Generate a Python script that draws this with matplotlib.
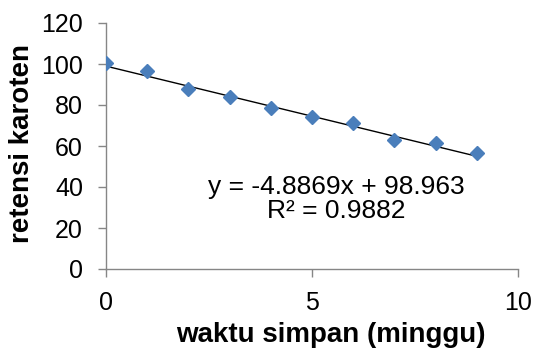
import matplotlib
matplotlib.use("Agg")
import matplotlib.pyplot as plt
import numpy as np

plt.rcParams["font.family"] = ["Liberation Sans", "DejaVu Sans"]

# storage time (weeks) and carotene retention (%)
weeks = [0, 1, 2, 3, 4, 5, 6, 7, 8, 9]
retention = [100.3, 96.6, 87.7, 83.9, 78.4, 74.3, 71.1, 62.9, 61.6, 56.4]

# trendline as reported on the chart
slope = -4.8869
intercept = 98.963
r_squared = 0.9882

x_ticks = [0, 5, 10]
y_ticks = [0, 20, 40, 60, 80, 100, 120]

axis_grey = "#868686"
marker_blue = "#4a7ebb"

W, H = 537, 349
fig = plt.figure(figsize=(W / 100, H / 100), dpi=100)
ax = fig.add_axes([106 / W, 1 - 269 / H, 412 / W, 246 / H])

ax.plot(weeks, retention, linestyle="none", marker="D", markersize=7.5,
        color=marker_blue, markeredgecolor=marker_blue, zorder=3)

fit_x = np.array([weeks[0], weeks[-1]])
ax.plot(fit_x, slope * fit_x + intercept, color="black", linewidth=1.0, zorder=2)

ax.set_xlim(0, 10)
ax.set_ylim(0, 120)
ax.set_xticks(x_ticks)
ax.set_yticks(y_ticks)

for side in ("top", "right"):
    ax.spines[side].set_visible(False)
for side in ("left", "bottom"):
    ax.spines[side].set_color(axis_grey)
    ax.spines[side].set_linewidth(1.0)
ax.tick_params(axis="both", direction="out", length=5.5, width=1.0,
               color=axis_grey, labelsize=18, labelcolor="black")
ax.tick_params(axis="x", pad=10)
ax.tick_params(axis="y", pad=11)

# axis titles placed in figure pixels to match the original layout
fig.text(331 / W, 1 - 335 / H, "waktu simpan (minggu)", fontsize=20,
         fontweight="bold", ha="center", va="center")
fig.text(22 / W, 1 - 143 / H, "retensi karoten", fontsize=20,
         fontweight="bold", ha="center", va="center", rotation=90)

ax.text(5.58, 34, f"y = {slope}x + {intercept}\nR² = {r_squared}",
        ha="center", va="center", fontsize=19, linespacing=1.0)

fig.savefig("out.png", dpi=100)
